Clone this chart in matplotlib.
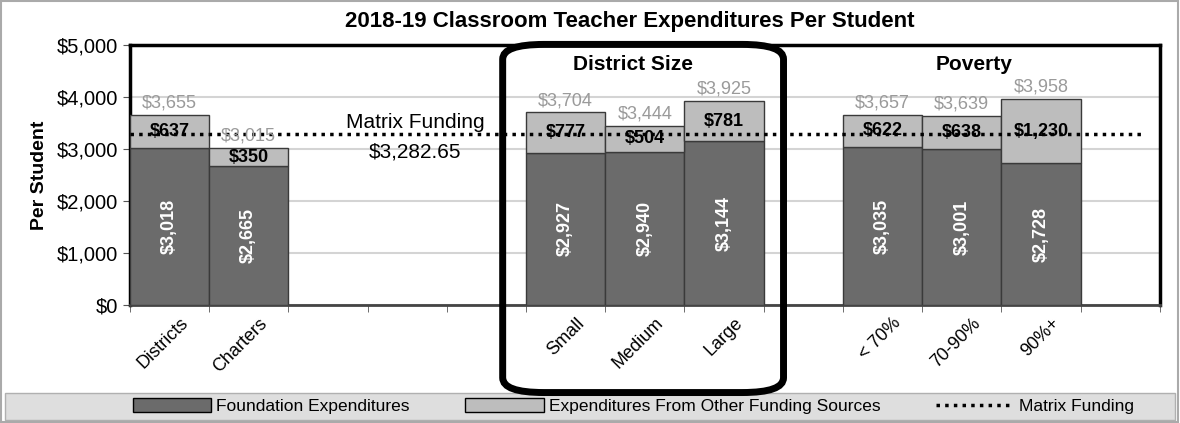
import numpy as np
import matplotlib
matplotlib.use("Agg")
import matplotlib.pyplot as plt
from matplotlib.patches import Patch, FancyBboxPatch, Rectangle
from matplotlib.lines import Line2D
import matplotlib.transforms as mtransforms

plt.rcParams['font.family'] = ['Liberation Sans', 'DejaVu Sans']

# data
categories = ["Districts", "Charters", "Small", "Medium", "Large", "< 70%", "70-90%", "90%+"]
slots = [0, 1, 5, 6, 7, 9, 10, 11]
foundation = [3018, 2665, 2927, 2940, 3144, 3035, 3001, 2728]
other = [637, 350, 777, 504, 781, 622, 638, 1230]
totals = [3655, 3015, 3704, 3444, 3925, 3657, 3639, 3958]
matrix_funding = 3282.65

dark = "#6b6b6b"
light = "#bdbdbd"

fig = plt.figure(figsize=(11.8, 4.23), dpi=100)
ax = fig.add_axes([0.110, 0.279, 0.873, 0.615])

x = np.array(slots)
ax.bar(x, foundation, width=1.0, color=dark, edgecolor="#3a3a3a", linewidth=1, zorder=3)
ax.bar(x, other, width=1.0, bottom=foundation, color=light, edgecolor="#3a3a3a", linewidth=1, zorder=3)

ax.axhline(matrix_funding, xmin=0.0, xmax=0.985, color="black", linestyle=(0, (1, 1.5)),
           linewidth=2.5, zorder=4)

for xi, f, o, t in zip(x, foundation, other, totals):
    ax.text(xi, f / 2, "${:,}".format(f), rotation=90, ha="center", va="center",
            color="white", fontsize=13, fontweight="bold", zorder=5)
    ax.text(xi, f + o / 2, "${:,}".format(o), ha="center", va="center",
            color="black", fontsize=13, fontweight="bold", zorder=5)
    ax.text(xi, t + 60, "${:,}".format(t), ha="center", va="bottom",
            color="#9a9a9a", fontsize=13, zorder=5)

ax.text(3.1, 3330, "Matrix Funding", ha="center", va="bottom", fontsize=15, zorder=5)
ax.text(3.1, 3130, "${:,.2f}".format(matrix_funding), ha="center", va="top", fontsize=15, zorder=5)
ax.text(5.85, 4620, "District Size", ha="center", va="center", fontsize=15, fontweight="bold")
ax.text(10.15, 4620, "Poverty", ha="center", va="center", fontsize=15, fontweight="bold")

ax.set_xlim(-0.5, 12.5)
ax.set_ylim(0, 5000)
ax.set_yticks(np.arange(0, 5001, 1000))
ax.set_yticklabels(["${:,}".format(v) for v in range(0, 5001, 1000)], fontsize=14.5)
ax.set_ylabel("Per Student", fontsize=14, fontweight="bold", labelpad=6)
ax.yaxis.grid(True, color="#d4d4d4", linewidth=1.5, zorder=0)
ax.set_axisbelow(True)

ax.set_xticks(x)
ax.set_xticklabels(categories, rotation=45, ha="right", va="top", rotation_mode="anchor", fontsize=13)
ax.tick_params(axis="x", which="major", length=0, pad=7)
shift = mtransforms.ScaledTranslation(10 / 100, 0, fig.dpi_scale_trans)
for lbl in ax.get_xticklabels():
    lbl.set_transform(lbl.get_transform() + shift)
ax.set_xticks(np.arange(-0.5, 13, 1), minor=True)
ax.tick_params(axis="x", which="minor", length=5, color="#555555")
ax.tick_params(axis="y", length=5, color="#555555")

for side in ["top", "right", "left"]:
    ax.spines[side].set_linewidth(2.5)
    ax.spines[side].set_color("black")
ax.spines["bottom"].set_linewidth(2)
ax.spines["bottom"].set_color("#444444")

fig.suptitle("2018-19 Classroom Teacher Expenditures Per Student", x=0.534, y=0.975,
             fontsize=16, fontweight="bold")

# legend band
fig.patches.append(Rectangle((0.004, 0.008), 0.992, 0.062, transform=fig.transFigure,
                             facecolor="#dedede", edgecolor="#b0b0b0", linewidth=1, zorder=0))
handles = [
    Patch(facecolor=dark, edgecolor="black", label="Foundation Expenditures"),
    Patch(facecolor=light, edgecolor="black", label="Expenditures From Other Funding Sources"),
    Line2D([0], [0], color="black", linestyle=(0, (1, 1.5)), linewidth=2.5, label="Matrix Funding"),
]
fig.legend(handles=handles, loc="center", bbox_to_anchor=(0.537, 0.04), ncol=3, frameon=False,
           fontsize=12.5, handlelength=4.5, handleheight=0.8, columnspacing=3.2, handletextpad=0.3)

# rounded box around the district size group
fig.patches.append(FancyBboxPatch((0.426, 0.072), 0.238, 0.823,
                                  boxstyle="round,pad=0,rounding_size=0.035",
                                  transform=fig.transFigure, facecolor="none",
                                  edgecolor="black", linewidth=5, zorder=10))

# outer border
fig.patches.append(Rectangle((0.001, 0.002), 0.997, 0.995, transform=fig.transFigure,
                             facecolor="none", edgecolor="#aaaaaa", linewidth=1.5))

fig.savefig("out.png", dpi=100)
